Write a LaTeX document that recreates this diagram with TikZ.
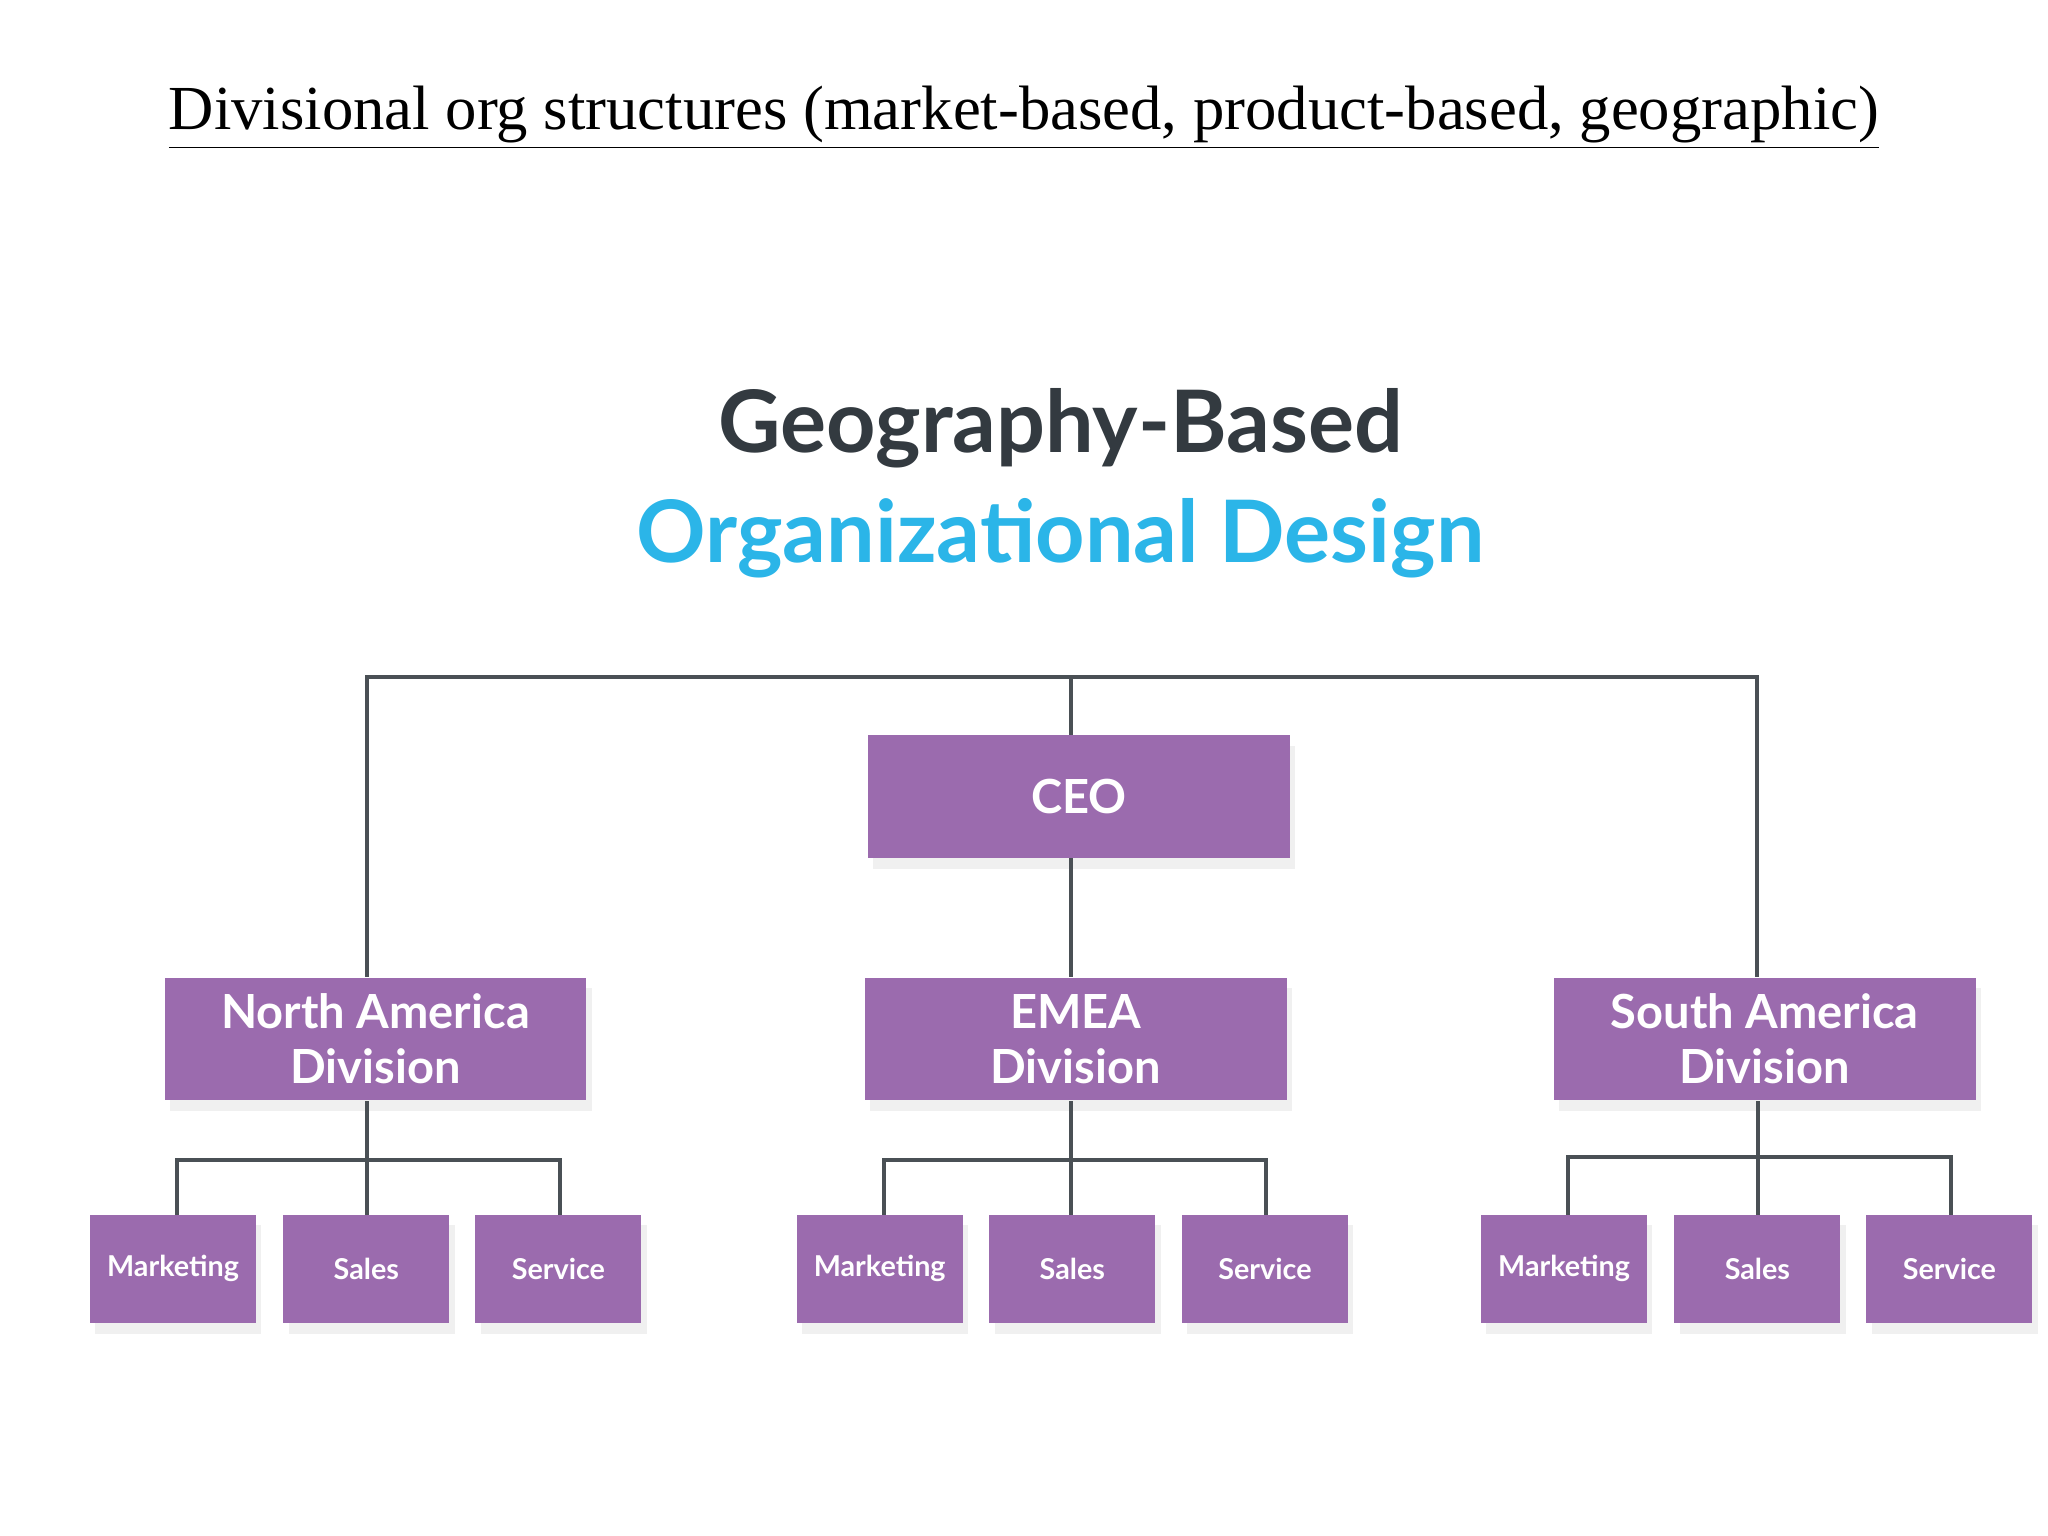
\documentclass[tikz,border=0pt]{standalone}
\usepackage{fontspec}
\setmainfont{Liberation Serif}
\newfontfamily\lato{Lato}
\definecolor{boxc}{HTML}{9B6BAE}
\definecolor{linec}{HTML}{4A5055}
\definecolor{darkt}{HTML}{333A40}
\definecolor{cyant}{HTML}{2BB5E8}
\begin{document}
\begin{tikzpicture}[x=0.5pt,y=-0.5pt,
  box/.style={fill=boxc,text=white,inner sep=0pt,align=center,font=\lato\bfseries,
    preaction={fill=black!6,transform canvas={xshift=2pt,yshift=-4pt}}},
  big/.style={box,minimum width=161.5pt,minimum height=47pt,font=\lato\bfseries\fontsize{18}{21}\selectfont},
  small/.style={box,minimum width=63.5pt,minimum height=41.5pt,font=\lato\bfseries\fontsize{11}{13}\selectfont},
  conn/.style={draw=linec,line width=1.5pt}]
\useasboundingbox (0,0) rectangle (1568,1176);
\node (t) at (784,90) {\fontsize{24}{28}\selectfont\underline{Divisional org structures (market-based, product-based, geographic)}};
\node[font=\lato\bfseries\fontsize{33}{38}\selectfont,text=darkt] (g) at (812,328) {Geography-Based};
\node[font=\lato\bfseries\fontsize{33}{38}\selectfont,text=cyant] (o) at (812,412) {Organizational Design};
\coordinate (top) at (820,518);
\node[big] (ceo) at (826,610) {CEO};
\node[big] (na) at (287.5,795.5) {North America\\Division};
\node[big] (em) at (823.5,795.5) {EMEA\\Division};
\node[big] (sa) at (1351,795.5) {South America\\Division};
\draw[conn] (281,748) |- (top) -| (1345,748);
\draw[conn] (top) -- (820,563);
\draw[conn] (820,657) -- (820,748);
\foreach \p/\x/\a/\b/\c/\hy in {na/281/132.5/280.5/427.5/888, em/820/673.5/821/968.5/888, sa/1346/1197.5/1345.5/1492.5/886}{
  \node[small] (\p1) at (\a,971.5) {Marketing};
  \node[small] (\p2) at (\b,971.5) {Sales};
  \node[small] (\p3) at (\c,971.5) {Service};
  \draw[conn] (\x,843) -- (\x,930);
  \draw[conn] (\a+3,930) |- (\c+1,\hy) -- (\c+1,930);
}
\end{tikzpicture}
\end{document}
